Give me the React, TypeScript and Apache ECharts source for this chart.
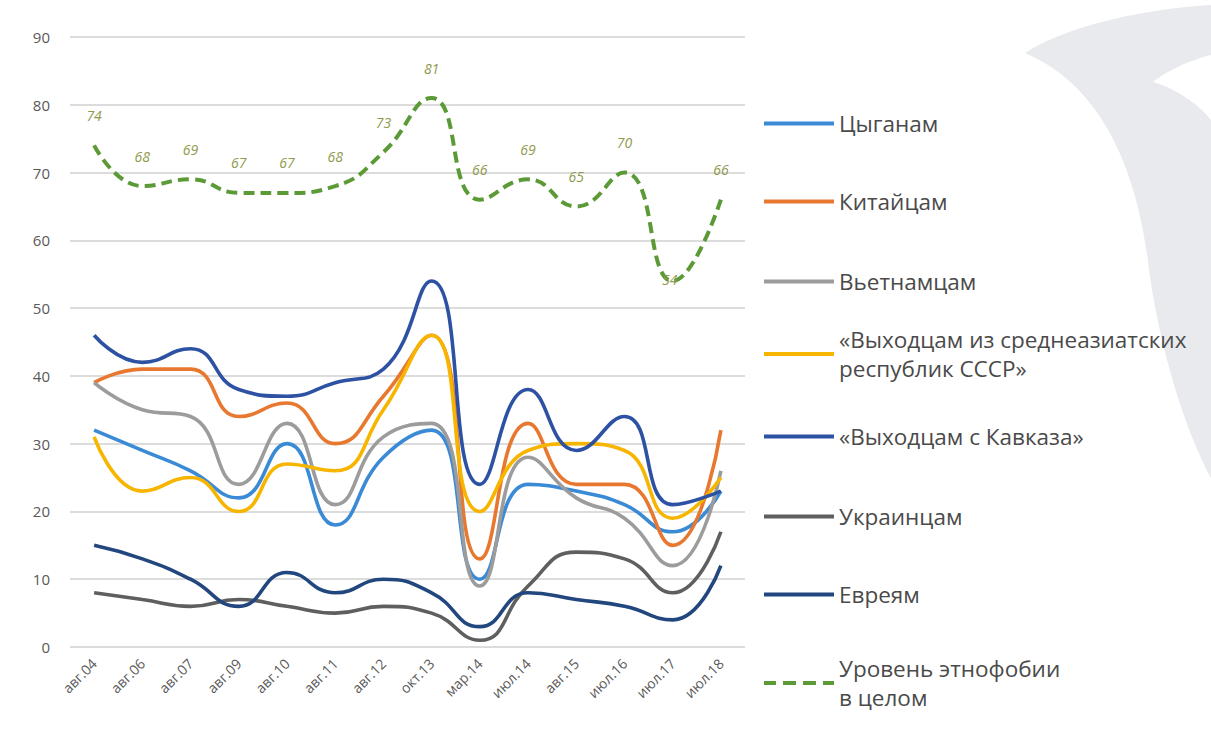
import React, { useEffect, useRef } from "react";
import * as echarts from "echarts";

const categories = ["авг.04", "авг.06", "авг.07", "авг.09", "авг.10", "авг.11", "авг.12", "окт.13", "мар.14", "июл.14", "авг.15", "июл.16", "июл.17", "июл.18"];
const yTicks = [0, 90, 10];

const seriesNames = [
  "Цыганам",
  "Китайцам",
  "Вьетнамцам",
  "«Выходцам из среднеазиатских\nреспублик СССР»",
  "«Выходцам с Кавказа»",
  "Украинцам",
  "Евреям",
  "Уровень этнофобии\nв целом",
];

const gypsies = [32, 29, 26, 22, 30, 18, 28, 32, 10, 24, 23, 21, 17, 23];
const chinese = [39, 41, 41, 34, 36, 30, 37, 46, 13, 33, 24, 24, 15, 32];
const vietnamese = [39, 35, 34, 24, 33, 21, 31, 33, 9, 28, 22, 19, 12, 26];
const centralAsia = [31, 23, 25, 20, 27, 26, 35, 46, 20, 29, 30, 29, 19, 25];
const caucasus = [46, 42, 44, 38, 37, 39, 41, 54, 24, 38, 29, 34, 21, 23];
const ukrainians = [8, 7, 6, 7, 6, 5, 6, 5, 1, 9, 14, 13, 8, 17];
const jews = [15, 13, 10, 6, 11, 8, 10, 8, 3, 8, 7, 6, 4, 12];
const overall = [74, 68, 69, 67, 67, 68, 73, 81, 66, 69, 65, 70, 54, 66];

const colors = ["#3a8ad6", "#e8782f", "#9c9c9c", "#f7b500", "#2d51a3", "#5f5f5f", "#22467e", "#5b9a36"];

const legendTops = [109, 187, 267, 325, 422, 502, 580, 654];

const bgShape =
  "M1025,53 C1060,30 1130,10 1211,5 L1211,55 C1190,60 1165,72 1153,82 C1175,88 1200,105 1211,120 L1211,478 C1185,430 1160,350 1149,270 C1140,190 1112,90 1025,53 Z";

const solidIcon = "path://M0,0L70,0L70,4L0,4Z";
const dashIcon = "path://M0,0h12v4h-12zM19,0h13v4h-13zM39,0h13v4h-13zM59,0h11v4h-11z";

export default function App() {
  const ref = useRef<HTMLDivElement>(null);
  useEffect(() => {
    if (!ref.current) return;
    echarts.graphic.registerShape("bgleaf", echarts.graphic.extendPath(bgShape, {}) as any);
    const chart = echarts.init(ref.current, null, { renderer: "svg" });
    const dataSets = [gypsies, chinese, vietnamese, centralAsia, caucasus, ukrainians, jews];
    const series: any[] = dataSets.map((d, i) => ({
      name: seriesNames[i],
      type: "line",
      data: d,
      smooth: 0.5,
      symbol: "none",
      z: 3 + i,
      lineStyle: { color: colors[i], width: 3.6 },
      itemStyle: { color: colors[i] },
    }));
    series.push({
      name: seriesNames[7],
      type: "line",
      data: overall.map((v, i) =>
        i === 12 ? { value: v, label: { position: "inside", offset: [-3, -2] } } : v
      ),
      smooth: 0.5,
      symbol: "circle",
      symbolSize: 2,
      showSymbol: true,
      showAllSymbol: true,
      z: 12,
      lineStyle: { color: colors[7], width: 4, type: [11, 6] },
      itemStyle: { color: "rgba(91,154,54,0)", borderWidth: 0 },
      label: {
        show: true,
        position: "top",
        distance: 22,
        fontStyle: "italic",
        fontSize: 14,
        fontFamily: "Open Sans",
        color: "#8e9a4c",
      },
    });
    const legends = seriesNames.map((n, i) => ({
      data: [{ name: n, icon: i === 7 ? dashIcon : solidIcon, itemStyle: { color: colors[i] } }],
      orient: "vertical",
      left: 764,
      top: legendTops[i],
      padding: 0,
      itemWidth: 70,
      itemHeight: 4,
      itemGap: 0,
      textStyle: { fontSize: 22.5, fontFamily: "Open Sans", color: "#4a4a4a", lineHeight: 29, padding: [0, 0, 0, 0] },
    }));
    chart.setOption({
      animation: false,
      backgroundColor: "#ffffff",
      graphic: [
        {
          type: "bgleaf",
          x: 0,
          y: 0,
          z: -10,
          silent: true,
          style: { fill: "#e9eaed" },
        },
      ],
      grid: { left: 70, right: 466, top: 37, bottom: 82 },
      legend: legends,
      xAxis: {
        type: "category",
        data: categories,
        boundaryGap: true,
        axisLine: { show: false },
        axisTick: { show: false },
        axisLabel: { rotate: 45, margin: 14, fontSize: 14, fontFamily: "Open Sans", color: "#595959" },
      },
      yAxis: {
        type: "value",
        min: yTicks[0],
        max: yTicks[1],
        interval: yTicks[2],
        axisLine: { show: false },
        axisTick: { show: false },
        axisLabel: { margin: 20, fontSize: 15, fontFamily: "Open Sans", color: "#595959" },
        splitLine: { lineStyle: { color: "#dcdcdc", width: 2 } },
      },
      series,
    });
    return () => chart.dispose();
  }, []);
  return <div ref={ref} style={{ width: 1211, height: 729, position: "absolute", left: 0, top: 0 }} />;
}
